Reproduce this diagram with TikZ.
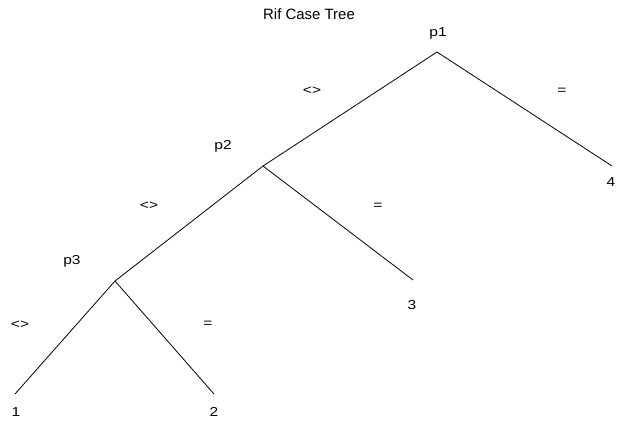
\documentclass[tikz,border=0pt]{standalone}
\usepackage{fontspec}
\usepackage{graphicx}
\setmainfont{Liberation Sans}
\newcommand{\wide}[1]{\scalebox{1.2}[1]{#1}}
\begin{document}
\begin{tikzpicture}[x=1bp,y=-1bp,
  lbl/.style={inner sep=0pt,anchor=base,font=\fontsize{13}{15}\selectfont},
  sym/.style={inner sep=0pt,anchor=center,font=\fontsize{13}{15}\selectfont},
  edge/.style={line width=0.8pt}]
\useasboundingbox (0,0) rectangle (619,428);
\node[lbl,font=\fontsize{15}{18}\selectfont] (title) at (309,19) {Rif Case Tree};
% vertices
\coordinate (v1) at (437,52);
\coordinate (v2) at (263,166);
\coordinate (v3) at (115,281);
\coordinate (e1) at (15,394);
\coordinate (e2) at (214,394);
\coordinate (e3) at (413,280);
\coordinate (e4) at (612,166);
% labels
\node[lbl] (p1) at (438,36) {\wide{p1}};
\node[lbl] (p2) at (223,149) {\wide{p2}};
\node[lbl] (p3) at (72,264) {\wide{p3}};
\node[lbl] (l1) at (16,416) {\wide{1}};
\node[lbl] (l2) at (214,416) {\wide{2}};
\node[lbl] (l3) at (412,309) {\wide{3}};
\node[lbl] (l4) at (611,186) {\wide{4}};
\node[sym] (ne1) at (312,91) {\wide{<>}};
\node[sym] (eq1) at (562,91) {\wide{=}};
\node[sym] (ne2) at (149,206) {\wide{<>}};
\node[sym] (eq2) at (378,206) {\wide{=}};
\node[sym] (ne3) at (20,325) {\wide{<>}};
\node[sym] (eq3) at (208,324) {\wide{=}};
% edges
\draw[edge] (v1) -- (v2);
\draw[edge] (v1) -- (e4);
\draw[edge] (v2) -- (v3);
\draw[edge] (v2) -- (e3);
\draw[edge] (v3) -- (e1);
\draw[edge] (v3) -- (e2);
\end{tikzpicture}
\end{document}
